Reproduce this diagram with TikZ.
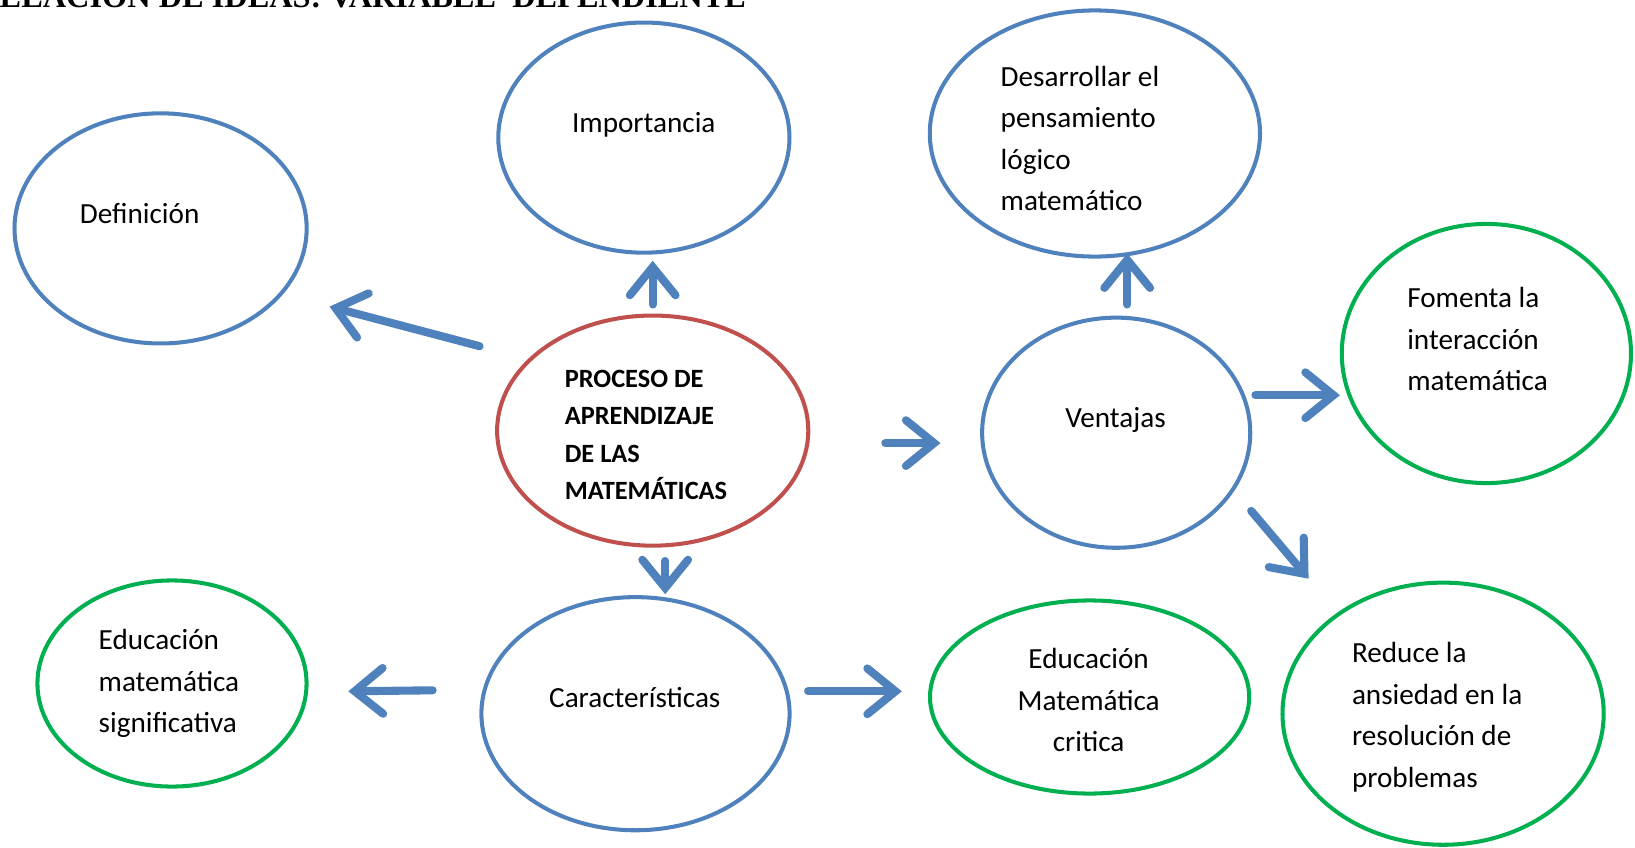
\documentclass[tikz,border=0pt]{standalone}
\usepackage{fontspec}
\setmainfont{Carlito}
\newfontfamily\titulofont{Liberation Serif}
\usetikzlibrary{shapes.geometric}
\usetikzlibrary{arrows.meta}
\definecolor{azul}{HTML}{4F81BD}
\definecolor{rojo}{HTML}{C0504D}
\definecolor{verde}{HTML}{00B050}
\tikzset{
 idea/.style={ellipse, draw=azul, line width=1.15pt, inner sep=0pt},
 ideav/.style={idea, draw=verde},
 idear/.style={idea, draw=rojo},
 txt/.style={anchor=base west, inner sep=0pt, align=left, font=\fontsize{8.3}{11.8}\selectfont},
 flecha/.style={azul, line width=2.3pt, line cap=round, -{Straight Barb[length=8pt, width=13pt, line cap=round]}}
}

\begin{document}
\begin{tikzpicture}[x=0.01cm, y=-0.01cm]
\useasboundingbox (0,0) rectangle (1635,848);
\node[anchor=base west, inner sep=0pt, font=\titulofont\bfseries\fontsize{9.2}{11}\selectfont] (titulo) at (-1,7.5) {ELACIÓN DE IDEAS: VARIABLE\ \ DEPENDIENTE};

% elipses
\node[idea, minimum width=2.92cm, minimum height=2.30cm] (def) at (160.6,228.4) {};
\node[idea, minimum width=2.91cm, minimum height=2.30cm] (imp) at (643.9,137.6) {};
\node[idea, minimum width=3.30cm, minimum height=2.46cm] (des) at (1094.9,133.5) {};
\node[ideav, minimum width=2.89cm, minimum height=2.59cm] (fom) at (1486.4,353.5) {};
\node[idear, minimum width=3.11cm, minimum height=2.30cm] (pro) at (652.7,430.6) {};
\node[idea, minimum width=2.68cm, minimum height=2.30cm] (ven) at (1116.2,432.7) {};
\node[ideav, minimum width=2.69cm, minimum height=2.06cm] (sig) at (172,683.5) {};
\node[idea, minimum width=3.08cm, minimum height=2.33cm] (car) at (635.5,713.7) {};
\node[ideav, minimum width=3.19cm, minimum height=1.93cm] (cri) at (1089.6,697) {};
\node[ideav, minimum width=3.21cm, minimum height=2.62cm] (red) at (1443.1,713.7) {};

% textos (base = ultima linea)
\node[txt] (tdef) at (79.2,223) {Definición};
\node[txt] (timp) at (571.4,132) {Importancia};
\node[txt] (tdes) at (1000,210.6) {Desarrollar el\\pensamiento\\lógico\\matemático};
\node[txt] (tfom) at (1406.6,390.9) {Fomenta la\\interacción\\matemática};
\node[txt, font=\bfseries\fontsize{7.5}{10.6}\selectfont] (tpro) at (564.1,499.5) {PROCESO DE\\APRENDIZAJE\\DE LAS\\MATEMÁTICAS};
\node[txt] (tven) at (1064.6,427.5) {Ventajas};
\node[txt] (tsig) at (98,732.9) {Educación\\matemática\\significativa};
\node[txt] (tcar) at (548.5,707) {Características};
\node[txt, anchor=base, align=center] (tcri) at (1088.6,751.9) {Educación\\Matemática\\critica};
\node[txt] (tred) at (1351.3,787.1) {Reduce la\\ansiedad en la\\resolución de\\problemas};

% flechas
\coordinate (a1) at (479.6,346.2); \coordinate (b1) at (329.5,306.6);
\coordinate (a2) at (652.7,304.5); \coordinate (b2) at (652.7,260.7);
\coordinate (a3) at (665.2,561);   \coordinate (b3) at (665.2,594.3);
\coordinate (a4) at (885.3,443.1); \coordinate (b4) at (940.5,443.1);
\coordinate (a5) at (1127.2,304.5); \coordinate (b5) at (1127.2,253.4);
\coordinate (a6) at (1255.4,395.2); \coordinate (b6) at (1339.9,395.2);
\coordinate (a7) at (1251.2,510.9); \coordinate (b7) at (1308.6,578.7);
\coordinate (a8) at (432.7,690.3); \coordinate (b8) at (348.3,691.3);
\coordinate (a9) at (808.1,691.3); \coordinate (b9) at (901.9,691.3);
\foreach \i in {1,...,9} {
 \draw[flecha] (a\i) -- (b\i);
}
\end{tikzpicture}
\end{document}
